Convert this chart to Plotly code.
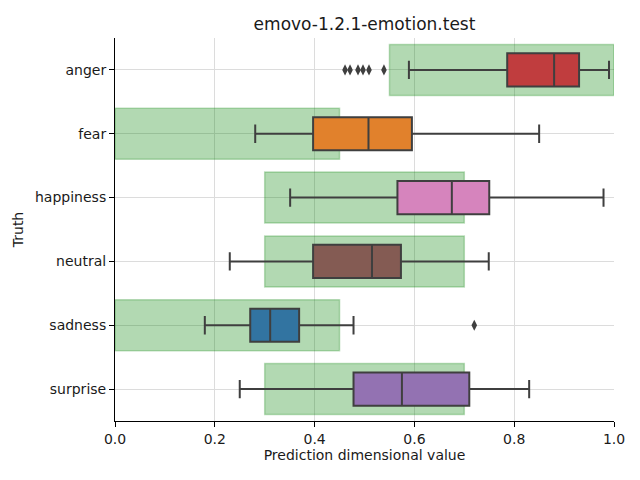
import plotly.graph_objects as go

categories = ["anger", "fear", "happiness", "neutral", "sadness", "surprise"]
lower_whisker = [0.589, 0.281, 0.351, 0.230, 0.180, 0.250]
q1 = [0.786, 0.397, 0.566, 0.397, 0.271, 0.478]
median = [0.880, 0.508, 0.675, 0.515, 0.311, 0.575]
q3 = [0.930, 0.595, 0.750, 0.573, 0.369, 0.710]
upper_whisker = [0.990, 0.850, 0.979, 0.749, 0.478, 0.830]
outlier_cat = ["anger"] * 6 + ["sadness"]
outlier_val = [0.461, 0.471, 0.487, 0.497, 0.509, 0.539, 0.720]
range_lo = [0.55, 0.0, 0.3, 0.3, 0.0, 0.3]
range_hi = [1.0, 0.45, 0.7, 0.7, 0.45, 0.7]
box_colors = ["#c03d3e", "#e1812c", "#d684bd", "#845b53", "#3274a1", "#9372b2"]

idx = list(range(len(categories)))
fig = go.Figure()

fig.add_trace(go.Bar(
    y=idx, x=[h - l for l, h in zip(range_lo, range_hi)], base=range_lo,
    orientation="h", width=0.8,
    marker=dict(color="rgba(0,128,0,0.3)", line=dict(color="rgba(0,128,0,0.25)", width=1.5)),
    showlegend=False, hoverinfo="skip",
))

for i, c in enumerate(categories):
    fig.add_trace(go.Box(
        y=[i], q1=[q1[i]], median=[median[i]], q3=[q3[i]],
        lowerfence=[lower_whisker[i]], upperfence=[upper_whisker[i]],
        orientation="h", width=0.52, whiskerwidth=0.55,
        fillcolor=box_colors[i], line=dict(color="#3f3f3f", width=2),
        showlegend=False, name=c,
    ))

fig.add_trace(go.Scatter(
    y=[categories.index(c) for c in outlier_cat], x=outlier_val, mode="markers",
    marker=dict(symbol="diamond-tall", size=8, color="#3f3f3f"),
    showlegend=False,
))

font = "DejaVu Sans"
fig.update_layout(
    width=640, height=480,
    margin=dict(l=107, r=34, t=30, b=67),
    paper_bgcolor="white", plot_bgcolor="white",
    barmode="overlay",
    font=dict(family=font, size=14, color="#1a1a1a"),
    title=dict(text="emovo-1.2.1-emotion.test", x=0.5, xref="paper", xanchor="center",
               y=1, yref="paper", yanchor="bottom", pad=dict(b=8),
               font=dict(size=17, family=font)),
    xaxis=dict(range=[0, 1], tickvals=[0, 0.2, 0.4, 0.6, 0.8, 1.0],
               ticktext=["0.0", "0.2", "0.4", "0.6", "0.8", "1.0"],
               showgrid=True, gridcolor="#dcdcdc", gridwidth=1,
               showline=True, linecolor="black", linewidth=1,
               ticks="outside", ticklen=5, tickcolor="black",
               zeroline=False, automargin=False,
               title=dict(text="Prediction dimensional value", standoff=4, font=dict(size=14))),
    yaxis=dict(range=[5.5, -0.5], tickvals=idx, ticktext=categories,
               showgrid=True, gridcolor="#dcdcdc", gridwidth=1,
               showline=True, linecolor="black", linewidth=1,
               ticks="outside", ticklen=5, tickcolor="black",
               zeroline=False, automargin=False,
               title=dict(text="Truth", standoff=8, font=dict(size=14))),
)

fig.write_html("out.html")
